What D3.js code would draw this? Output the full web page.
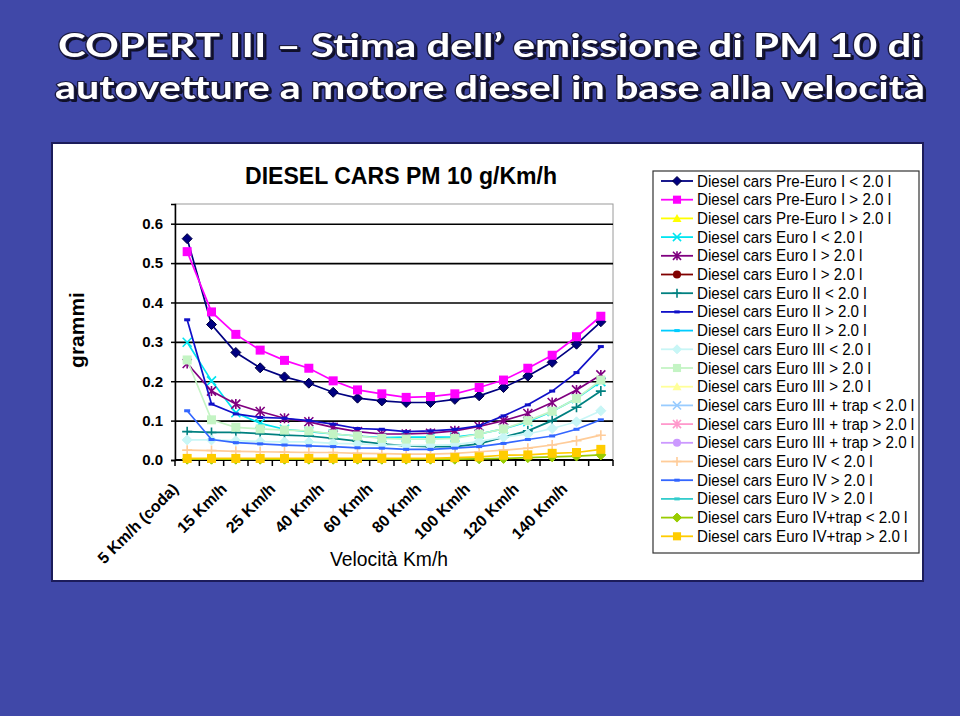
<!DOCTYPE html>
<html><head><meta charset="utf-8">
<script src="https://cdn.jsdelivr.net/npm/d3@7"></script>
<style>
html,body{margin:0;padding:0;background:#4048a8;}
svg{display:block;}
</style></head>
<body>
<svg id="c" width="960" height="716"></svg>
<script>
// ---------- DATA ----------
const categories = ["5 Km/h (coda)","10 Km/h","15 Km/h","20 Km/h","25 Km/h","30 Km/h","40 Km/h","50 Km/h","60 Km/h","70 Km/h","80 Km/h","90 Km/h","100 Km/h","110 Km/h","120 Km/h","130 Km/h","140 Km/h","150 Km/h"];
const tickLabels = ["5 Km/h (coda)","15 Km/h","25 Km/h","40 Km/h","60 Km/h","80 Km/h","100 Km/h","120 Km/h","140 Km/h"];
const yTicks = [0,0.1,0.2,0.3,0.4,0.5,0.6];

const seriesNames = [
 "Diesel cars Pre-Euro I < 2.0 l","Diesel cars Pre-Euro I > 2.0 l","Diesel cars Pre-Euro I > 2.0 l",
 "Diesel cars Euro I < 2.0 l","Diesel cars Euro I > 2.0 l","Diesel cars Euro I > 2.0 l",
 "Diesel cars Euro II < 2.0 l","Diesel cars Euro II > 2.0 l","Diesel cars Euro II > 2.0 l",
 "Diesel cars Euro III < 2.0 l","Diesel cars Euro III > 2.0 l","Diesel cars Euro III > 2.0 l",
 "Diesel cars Euro III + trap < 2.0 l","Diesel cars Euro III + trap > 2.0 l","Diesel cars Euro III + trap > 2.0 l",
 "Diesel cars Euro IV < 2.0 l","Diesel cars Euro IV > 2.0 l","Diesel cars Euro IV > 2.0 l",
 "Diesel cars Euro IV+trap < 2.0 l","Diesel cars Euro IV+trap > 2.0 l"];

const preEuroLt2   = [0.562,0.344,0.273,0.234,0.211,0.195,0.172,0.157,0.150,0.146,0.146,0.154,0.163,0.184,0.213,0.248,0.294,0.351];
const preEuroGt2   = [0.529,0.376,0.319,0.279,0.253,0.233,0.201,0.178,0.168,0.159,0.161,0.168,0.184,0.203,0.233,0.266,0.313,0.365];
const euroILt2     = [0.299,0.201,0.120,0.093,0.078,0.072,0.066,0.061,0.057,0.058,0.058,0.058,0.066,0.079,0.097,0.123,0.156,0.199];
const euroIGt2     = [0.245,0.175,0.142,0.123,0.106,0.097,0.083,0.072,0.066,0.066,0.068,0.074,0.085,0.100,0.118,0.146,0.178,0.216];
const euroIILt2    = [0.072,0.070,0.070,0.067,0.063,0.061,0.055,0.048,0.041,0.036,0.034,0.034,0.041,0.058,0.074,0.100,0.134,0.175];
const euroIIGt2    = [0.356,0.142,0.117,0.108,0.106,0.100,0.091,0.080,0.078,0.072,0.074,0.078,0.087,0.112,0.140,0.175,0.222,0.288];
const euroIIILt2   = [0.051,0.051,0.049,0.047,0.046,0.046,0.042,0.041,0.038,0.037,0.037,0.039,0.047,0.058,0.066,0.080,0.097,0.125];
const euroIIIGt2   = [0.254,0.102,0.083,0.079,0.076,0.074,0.066,0.061,0.055,0.053,0.053,0.055,0.066,0.079,0.100,0.124,0.156,0.203];
const euroIVLt2    = [0.025,0.024,0.022,0.021,0.020,0.019,0.019,0.017,0.016,0.015,0.015,0.017,0.021,0.025,0.030,0.038,0.049,0.063];
const euroIVGt2    = [0.125,0.052,0.044,0.041,0.038,0.036,0.034,0.031,0.030,0.027,0.027,0.030,0.034,0.042,0.052,0.061,0.078,0.102];
const euroIVTrapLt2= [0.002,0.002,0.002,0.002,0.002,0.002,0.002,0.002,0.002,0.002,0.002,0.002,0.003,0.004,0.006,0.008,0.010,0.013];
const euroIVTrapGt2= [0.004,0.004,0.004,0.004,0.004,0.004,0.004,0.004,0.004,0.004,0.004,0.006,0.008,0.012,0.013,0.017,0.019,0.027];

// series values in legend order (null = no data drawn)
const seriesValues = [preEuroLt2, preEuroGt2, null, euroILt2, euroIGt2, null, euroIILt2, euroIIGt2, null,
  euroIIILt2, euroIIIGt2, null, null, null, null, euroIVLt2, euroIVGt2, null, euroIVTrapLt2, euroIVTrapGt2];

const seriesColors = ["#000080","#ff00ff","#ffff00","#00e5f0","#800080","#800000","#008080","#1010c8","#00ccff",
  "#c8f6f6","#c4f4c4","#ffff99","#99ccff","#ff99cc","#cc99ff","#ffcc99","#3366ff","#33cccc","#99cc00","#ffcc00"];
const seriesMarkers = ["diamond","square","triangle","x","star","circle","plus","dash","dash",
  "diamond","square","triangle","x","star","circle","plus","dash","dash","diamond","square"];

// ---------- LAYOUT ----------
const svg = d3.select("#c");
const plot = {l:175, r:613, t:204, b:460};

const defs = svg.append("defs");
const f = defs.append("filter").attr("id","shadow").attr("x","-5%").attr("y","-20%").attr("width","110%").attr("height","150%");
f.append("feDropShadow").attr("dx",2).attr("dy",2).attr("stdDeviation",0.6).attr("flood-color","#0a0a20").attr("flood-opacity",0.95);

// white chart area
svg.append("rect").attr("x",52).attr("y",143).attr("width",871).attr("height",438)
  .attr("fill","#ffffff").attr("stroke","#1c1c5a").attr("stroke-width",2);

// slide title
const titleLines = ["COPERT III \u2013 Stima dell\u2019 emissione di PM 10 di","autovetture a motore diesel in base alla velocit\u00e0"];
titleLines.forEach((t,i)=>{
  svg.append("text").attr("x",490).attr("y",[57,99][i]).attr("text-anchor","middle")
    .attr("font-family","Lato, 'DejaVu Sans', sans-serif").attr("font-weight","bold").attr("font-size",33)
    .attr("textLength",[864,870][i]).attr("lengthAdjust","spacingAndGlyphs")
    .attr("fill","#ffffff").attr("stroke","#1a1a40").attr("stroke-width",2.2).attr("paint-order","stroke")
    .attr("stroke-linejoin","round").attr("filter","url(#shadow)").text(t);
});

// scales
const x = d3.scaleBand().domain(categories).range([plot.l, plot.r]);
const y = d3.scaleLinear().domain([0,0.65]).range([plot.b, plot.t]);
const cx = c => x(c) + x.bandwidth()/2;

// plot frame (top/right grey)
svg.append("rect").attr("x",plot.l).attr("y",plot.t).attr("width",plot.r-plot.l).attr("height",plot.b-plot.t)
  .attr("fill","#fff").attr("stroke","#9a9a9a").attr("stroke-width",1);

// gridlines
svg.append("g").attr("transform",`translate(${plot.l},0)`)
  .call(d3.axisLeft(y).tickValues(yTicks.filter(d=>d>0)).tickSize(-(plot.r-plot.l)).tickFormat(""))
  .call(g=>g.select(".domain").remove())
  .call(g=>g.selectAll("line").attr("stroke","#000").attr("stroke-width",1.6));

// y axis
const ya = svg.append("g").attr("transform",`translate(${plot.l},0)`)
  .call(d3.axisLeft(y).tickValues(yTicks).tickSize(4).tickPadding(8).tickFormat(d3.format(".1f")));
ya.select(".domain").attr("stroke","#000").attr("stroke-width",1.5);
ya.selectAll("line").attr("stroke","#000").attr("stroke-width",1.5);
ya.selectAll("text").attr("font-family","'Liberation Sans', Arial, sans-serif").attr("font-weight","bold")
  .attr("font-size",15).attr("fill","#000");

// x axis line + ticks between categories
const xa = svg.append("g");
xa.append("line").attr("x1",plot.l).attr("x2",plot.r).attr("y1",plot.b).attr("y2",plot.b)
  .attr("stroke","#000").attr("stroke-width",2);
const bounds = categories.map(c=>x(c)).concat([plot.r]);
xa.selectAll("line.t").data(bounds).enter().append("line").attr("class","t")
  .attr("x1",d=>d).attr("x2",d=>d).attr("y1",plot.b).attr("y2",plot.b+6)
  .attr("stroke","#000").attr("stroke-width",1.5);
const labelIdx = tickLabels.map(t=>categories.indexOf(t));
xa.selectAll("text").data(labelIdx).enter().append("text")
  .attr("transform",i=>`translate(${cx(categories[i])-8},${plot.b+30}) rotate(-45)`)
  .attr("text-anchor","end")
  .attr("font-family","'Liberation Sans', Arial, sans-serif").attr("font-weight","bold").attr("font-size",16)
  .attr("fill","#000").text(i=>categories[i]);

// axis titles
svg.append("text").attr("transform","translate(84,330) rotate(-90)").attr("text-anchor","middle")
  .attr("font-family","'Liberation Sans', Arial, sans-serif").attr("font-weight","bold").attr("font-size",21)
  .attr("fill","#000").text("grammi");
svg.append("text").attr("x",389).attr("y",566).attr("text-anchor","middle")
  .attr("font-family","'Liberation Sans', Arial, sans-serif").attr("font-size",20)
  .attr("textLength",118).attr("lengthAdjust","spacingAndGlyphs")
  .attr("fill","#000").text("Velocit\u00e0 Km/h");
svg.append("text").attr("x",401).attr("y",184).attr("text-anchor","middle")
  .attr("font-family","'Liberation Sans', Arial, sans-serif").attr("font-weight","bold").attr("font-size",24)
  .attr("textLength",312).attr("lengthAdjust","spacingAndGlyphs")
  .attr("fill","#000").text("DIESEL CARS PM 10 g/Km/h");

// markers
function marker(g, type, color, px, py, s){
  s = s||1;
  switch(type){
    case "diamond": g.append("path").attr("d",`M${px},${py-5*s}L${px+5*s},${py}L${px},${py+5*s}L${px-5*s},${py}Z`)
      .attr("fill",color).attr("stroke",color==="#000080"?"#000040":color).attr("stroke-width",1); break;
    case "square": g.append("rect").attr("x",px-4.5*s).attr("y",py-4.5*s).attr("width",9*s).attr("height",9*s).attr("fill",color); break;
    case "triangle": g.append("path").attr("d",`M${px},${py-5*s}L${px+5*s},${py+4*s}L${px-5*s},${py+4*s}Z`).attr("fill",color); break;
    case "circle": g.append("circle").attr("cx",px).attr("cy",py).attr("r",4.5*s).attr("fill",color); break;
    case "x": g.append("path").attr("d",`M${px-4.5*s},${py-4.5*s}L${px+4.5*s},${py+4.5*s}M${px+4.5*s},${py-4.5*s}L${px-4.5*s},${py+4.5*s}`)
      .attr("stroke",color).attr("stroke-width",1.6).attr("fill","none"); break;
    case "star": g.append("path").attr("d",`M${px-4.5*s},${py-4.5*s}L${px+4.5*s},${py+4.5*s}M${px+4.5*s},${py-4.5*s}L${px-4.5*s},${py+4.5*s}M${px},${py-5*s}L${px},${py+5*s}`)
      .attr("stroke",color).attr("stroke-width",1.6).attr("fill","none"); break;
    case "plus": g.append("path").attr("d",`M${px-5*s},${py}L${px+5*s},${py}M${px},${py-5*s}L${px},${py+5*s}`)
      .attr("stroke",color).attr("stroke-width",1.6).attr("fill","none"); break;
    case "dash": g.append("rect").attr("x",px-3*s).attr("y",py-1.5).attr("width",6*s).attr("height",3).attr("fill",color); break;
  }
}

// series
const line = d3.line().x((d,i)=>cx(categories[i])).y(d=>y(d));
const sg = svg.append("g");
seriesValues.forEach((vals,k)=>{
  if(!vals) return;
  const g = sg.append("g");
  g.append("path").datum(vals).attr("d",line).attr("fill","none")
    .attr("stroke",seriesColors[k]).attr("stroke-width",1.7);
  vals.forEach((v,i)=>marker(g, seriesMarkers[k], seriesColors[k], cx(categories[i]), y(v)));
});

// legend
const lg = svg.append("g");
lg.append("rect").attr("x",653).attr("y",171).attr("width",266).attr("height",382)
  .attr("fill","#fff").attr("stroke","#333").attr("stroke-width",1.2);
const rowH = 18.7;
seriesNames.forEach((n,k)=>{
  const yy = 181 + k*rowH;
  lg.append("line").attr("x1",661).attr("x2",693).attr("y1",yy).attr("y2",yy)
    .attr("stroke",seriesColors[k]).attr("stroke-width",1.8);
  marker(lg, seriesMarkers[k], seriesColors[k], 677, yy, 0.9);
  lg.append("text").attr("x",697).attr("y",yy+5.5).attr("font-family","'Liberation Sans', Arial, sans-serif")
    .attr("font-size",16).attr("fill","#000").text(n);
});
// condense legend text uniformly so first entry spans ~194px
const texts = lg.selectAll("text").nodes();
const factor = 194 / texts[0].getComputedTextLength();
texts.forEach(t=>{ const L = t.getComputedTextLength(); t.setAttribute("textLength", L*factor); t.setAttribute("lengthAdjust","spacingAndGlyphs"); });
</script>
</body></html>
